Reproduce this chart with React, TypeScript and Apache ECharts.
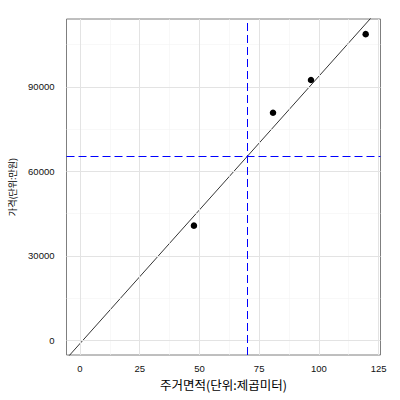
import React, { useEffect, useRef } from "react";
import * as echarts from "echarts";

const area = [47.7, 80.8, 96.7, 119.6];
const price = [40700, 80800, 92400, 108700];
const xTicks = [0, 25, 50, 75, 100, 125];
const xMinor = [12.5, 37.5, 62.5, 87.5, 112.5];
const yTicks = [0, 30000, 60000, 90000];
const yMinor = [15000, 45000, 75000, 105000];
const vLine = 70;
const xTitle = "주거면적(단위:제곱미터)";
const yTitle = "가격(단위:만원)";

export default function App() {
  const ref = useRef<HTMLDivElement>(null);
  useEffect(() => {
    if (!ref.current) return;
    const chart = echarts.init(ref.current, null, { renderer: "svg" });
    const n = area.length;
    const mx = area.reduce((a, b) => a + b, 0) / n;
    const my = price.reduce((a, b) => a + b, 0) / n;
    let sxy = 0, sxx = 0;
    for (let i = 0; i < n; i++) {
      sxy += (area[i] - mx) * (price[i] - my);
      sxx += (area[i] - mx) * (area[i] - mx);
    }
    const slope = sxy / sxx;
    const icpt = my - slope * mx;
    const fitX = [-20, 150];
    const fitData = fitX.map((x) => [x, icpt + slope * x]);
    const hLine = icpt + slope * vLine;

    const xMin = -5.65, xMax = 125.8, yMin = -5220, yMax = 114070;
    const font = "Liberation Sans, Arial, sans-serif";
    const kfont = "Noto Sans CJK KR, sans-serif";

    const gridMarks = [
      ...xMinor.map((v) => ({ xAxis: v, lineStyle: { color: "#f3f3f3", width: 0.6, type: "solid" } })),
      ...yMinor.map((v) => ({ yAxis: v, lineStyle: { color: "#f3f3f3", width: 0.6, type: "solid" } })),
      ...xTicks.map((v) => ({ xAxis: v, lineStyle: { color: "#e3e3e3", width: 1, type: "solid" } })),
      ...yTicks.map((v) => ({ yAxis: v, lineStyle: { color: "#e3e3e3", width: 1, type: "solid" } })),
    ];

    chart.setOption({
      animation: false,
      backgroundColor: "#ffffff",
      grid: {
        left: 66.5,
        right: 19.5,
        top: 19,
        bottom: 45,
        show: true,
        borderColor: "#7f7f7f",
        borderWidth: 1,
        backgroundColor: "transparent",
      },
      xAxis: {
        type: "value",
        min: xMin,
        max: xMax,
        name: xTitle,
        nameLocation: "middle",
        nameGap: 20,
        nameTextStyle: { fontFamily: kfont, fontSize: 12.5, color: "#000" },
        axisLine: { show: false },
        axisTick: { show: true, length: 4, customValues: xTicks, lineStyle: { color: "#333333" } },
        axisLabel: {
          customValues: xTicks,
          formatter: (v: number) => String(v),
          fontFamily: font,
          fontSize: 9.5,
          color: "#111111",
          margin: 8,
        },
        splitLine: { show: false },
      },
      yAxis: {
        type: "value",
        min: yMin,
        max: yMax,
        name: yTitle,
        nameLocation: "middle",
        nameGap: 39,
        nameRotate: 90,
        nameTextStyle: { fontFamily: kfont, fontSize: 9, color: "#000" },
        axisLine: { show: false },
        axisTick: { show: true, length: 4, customValues: yTicks, lineStyle: { color: "#333333" } },
        axisLabel: {
          customValues: yTicks,
          formatter: (v: number) => String(v),
          fontFamily: font,
          fontSize: 9.5,
          color: "#111111",
          margin: 12,
        },
        splitLine: { show: false },
      },
      series: [
        {
          type: "line",
          data: [],
          z: 1,
          silent: true,
          markLine: {
            silent: true,
            symbol: "none",
            label: { show: false },
            animation: false,
            data: gridMarks,
          },
        },
        {
          type: "line",
          data: [],
          z: 3,
          silent: true,
          markLine: {
            silent: true,
            symbol: "none",
            label: { show: false },
            animation: false,
            data: [
              { xAxis: vLine, lineStyle: { color: "#0000ff", width: 1, type: [8, 4] } },
              { yAxis: hLine, lineStyle: { color: "#0000ff", width: 1, type: [8, 4] } },
            ],
          },
        },
        {
          type: "line",
          data: fitData,
          z: 4,
          clip: true,
          symbol: "none",
          lineStyle: { color: "#000000", width: 0.8 },
          silent: true,
        },
        {
          type: "scatter",
          data: area.map((x, i) => [x, price[i]]),
          z: 5,
          symbol: "circle",
          symbolSize: 6.5,
          itemStyle: { color: "#000000", opacity: 1 },
        },
      ],
    });
    return () => chart.dispose();
  }, []);
  return (
    <div
      ref={ref}
      style={{ position: "fixed", left: 0, top: 0, width: 400, height: 400 }}
    />
  );
}
